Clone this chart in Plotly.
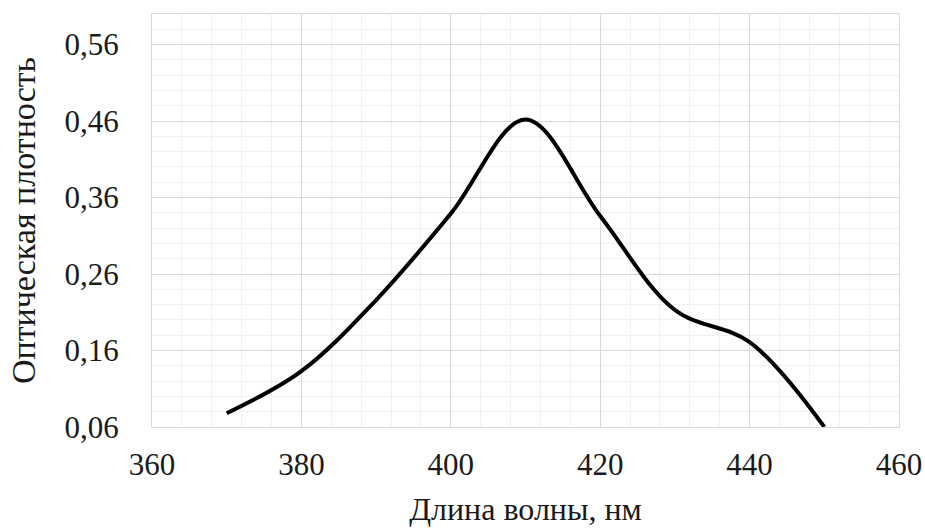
import plotly.graph_objects as go

wavelength = [370, 380, 390, 400, 410, 420, 430, 440, 450]
optical_density = [0.078, 0.133, 0.226, 0.339, 0.462, 0.336, 0.213, 0.171, 0.06]
y_ticks = [0.06, 0.16, 0.26, 0.36, 0.46, 0.56]
x_ticks = [360, 380, 400, 420, 440, 460]

font_family = "Liberation Serif, Times New Roman, serif"

fig = go.Figure()
fig.add_trace(go.Scatter(
    x=wavelength, y=optical_density, mode="lines",
    line=dict(color="black", width=4, shape="spline", smoothing=1.0),
    showlegend=False, cliponaxis=True,
))

fig.update_layout(
    width=925, height=532,
    margin=dict(l=152, r=26, t=14, b=105),
    paper_bgcolor="white", plot_bgcolor="white",
    separators=",.",
    font=dict(family=font_family, size=31, color="#1a1a1a"),
    xaxis=dict(
        range=[360, 460], tickvals=x_ticks, showgrid=True,
        gridcolor="#d9d9d9", gridwidth=1,
        minor=dict(dtick=4, tick0=360, showgrid=True, gridcolor="#f0f0f0", gridwidth=1),
        showline=True, linecolor="#d9d9d9", mirror=True, zeroline=False,
        ticks="", ticklabelstandoff=10, automargin=False,
        title=dict(text="Длина волны, нм", font=dict(size=32, family=font_family), standoff=16),
    ),
    yaxis=dict(
        range=[0.06, 0.60], tickvals=y_ticks, tickformat=".2f", showgrid=True,
        gridcolor="#d9d9d9", gridwidth=1,
        minor=dict(dtick=0.02, tick0=0.06, showgrid=True, gridcolor="#f0f0f0", gridwidth=1),
        showline=True, linecolor="#d9d9d9", mirror=True, zeroline=False,
        ticks="", ticklabelstandoff=26, automargin=False,
        title=dict(text="Оптическая плотность", font=dict(size=34, family=font_family), standoff=18),
    ),
)

fig.write_html(
    "out.html",
    config={"displayModeBar": False},
    post_script="document.body.style.margin='0';document.body.style.overflow='hidden';",
)
